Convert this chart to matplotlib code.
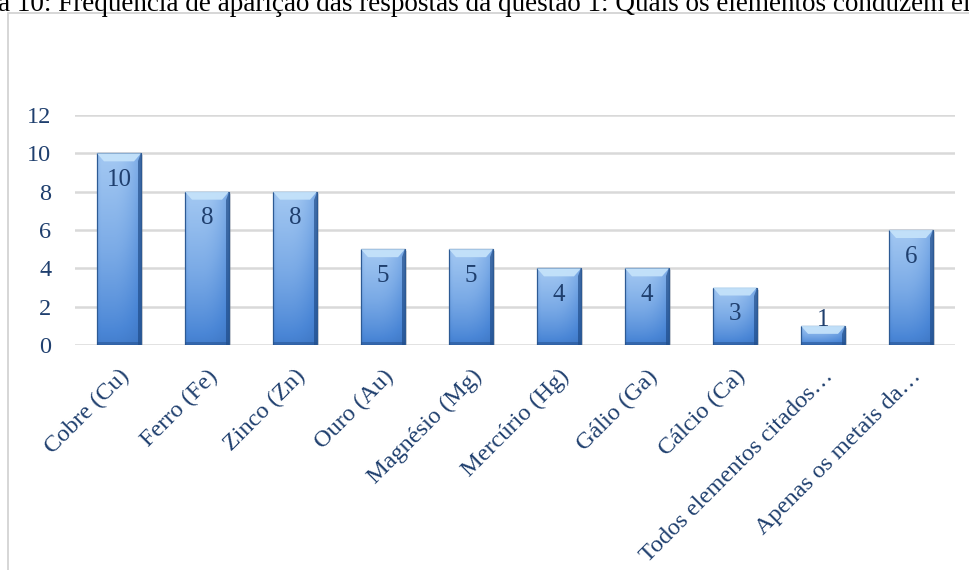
import numpy as np
import matplotlib.pyplot as plt
from matplotlib.patches import Rectangle, Polygon
from matplotlib.colors import LinearSegmentedColormap

categorias = ['Cobre (Cu)', 'Ferro (Fe)', 'Zinco (Zn)', 'Ouro (Au)', 'Magnésio (Mg)',
              'Mercúrio (Hg)', 'Gálio (Ga)', 'Cálcio (Ca)', 'Todos elementos citados…',
              'Apenas os metais da…']
frequencias = [10, 8, 8, 5, 5, 4, 4, 3, 1, 6]
yticks = [0, 2, 4, 6, 8, 10, 12]

azul_texto = '#1F3F6E'
fonte = ['Liberation Serif', 'DejaVu Serif']

fig = plt.figure(figsize=(9.7, 5.7), dpi=100)
fig.patch.set_facecolor('white')

# caption line above the chart frame
fig.text(-0.002, 0.993, 'a 10: Frequência de aparição das respostas da questão 1: Quais os elementos conduzem ele',
         fontsize=19.5, family=['Liberation Serif'], color='black', va='center', ha='left')

# chart frame
fig.patches.append(Rectangle((8 / 970, -0.02), 1.0, 1 - 13 / 570 + 0.02, transform=fig.transFigure,
                             fill=False, edgecolor='#D0D0D0', linewidth=1.2))

ax = fig.add_axes([75 / 970, 1 - 345 / 570, 880 / 970, 230 / 570])
x = np.arange(len(categorias))
ax.set_xlim(-0.5, len(categorias) - 0.5)
ax.set_ylim(0, 12)

for y in yticks:
    ax.axhline(y, color='#D9D9D9', linewidth=1.8, zorder=0)

cmap = LinearSegmentedColormap.from_list('barra', ['#2F64AE', '#4A86D6', '#7AAAE6', '#A3C8F2'])
largura = 0.5
px_y = 12 / 230.0
px_x = 1 / 88.0
bevel_h = 8 * px_y
bevel_w = 7 * px_x

# shading across each bar: light on the left, darker on the right edge
perfil = np.linspace(0, 1, 64)
horiz = 1 - 0.35 * np.clip((perfil - 0.35) / 0.65, 0, 1) ** 2 - 0.1 * np.clip(0.1 - perfil, 0, 1) * 10
for xi, v in zip(x, frequencias):
    x0, x1 = xi - largura / 2, xi + largura / 2
    # drop shadow
    ax.add_patch(Rectangle((x0 + 2 * px_x, -2 * px_y), largura, v, facecolor='#9A9A9A', alpha=0.35,
                           edgecolor='none', zorder=1))
    vert = np.linspace(0, 1, 100)[:, None] ** 0.8
    grad = np.clip((0.25 + 0.75 * vert) * horiz[None, :], 0, 1)
    im = ax.imshow(grad, extent=(x0, x1, 0, v), origin='lower', cmap=cmap, vmin=0, vmax=1,
                   aspect='auto', zorder=2, interpolation='bilinear')
    corpo = Rectangle((x0, 0), largura, v, facecolor='none', edgecolor='#2D5A94',
                      linewidth=0.9, zorder=3)
    ax.add_patch(corpo)
    im.set_clip_path(corpo)
    # bevelled top and dark right side
    ax.add_patch(Polygon([(x0, v), (x1, v), (x1 - bevel_w, v - bevel_h), (x0 + bevel_w, v - bevel_h)],
                         closed=True, facecolor='#C4E2FA', edgecolor='none', alpha=0.95, zorder=3))
    ax.add_patch(Polygon([(x1, v), (x1, 0), (x1 - 3 * px_x, 0), (x1 - 3 * px_x, v - bevel_h)],
                         closed=True, facecolor='#1A447E', edgecolor='none', alpha=0.6, zorder=3))
    ax.add_patch(Rectangle((x0, 0), largura, 3 * px_y, facecolor='#244F8C', edgecolor='none',
                           alpha=0.5, zorder=3))
    pos = v - 1.4 if v >= 2 else v + 0.3
    ax.text(xi, pos, str(v), ha='center', va='center',
            fontsize=18, family=fonte, color=azul_texto, zorder=4)

ax.set_yticks(yticks)
ax.set_yticklabels([str(t) for t in yticks], family=fonte, fontsize=17.5, color=azul_texto)
ax.set_xticks(x)
ax.set_xticklabels(categorias, rotation=45, ha='right', va='top', rotation_mode='anchor',
                   family=fonte, fontsize=17.5, color=azul_texto)
ax.tick_params(axis='both', length=0)
ax.tick_params(axis='y', pad=17)
ax.tick_params(axis='x', pad=15)
for s in ax.spines.values():
    s.set_visible(False)
ax.set_facecolor('none')

fig.savefig('out.png', dpi=100)
